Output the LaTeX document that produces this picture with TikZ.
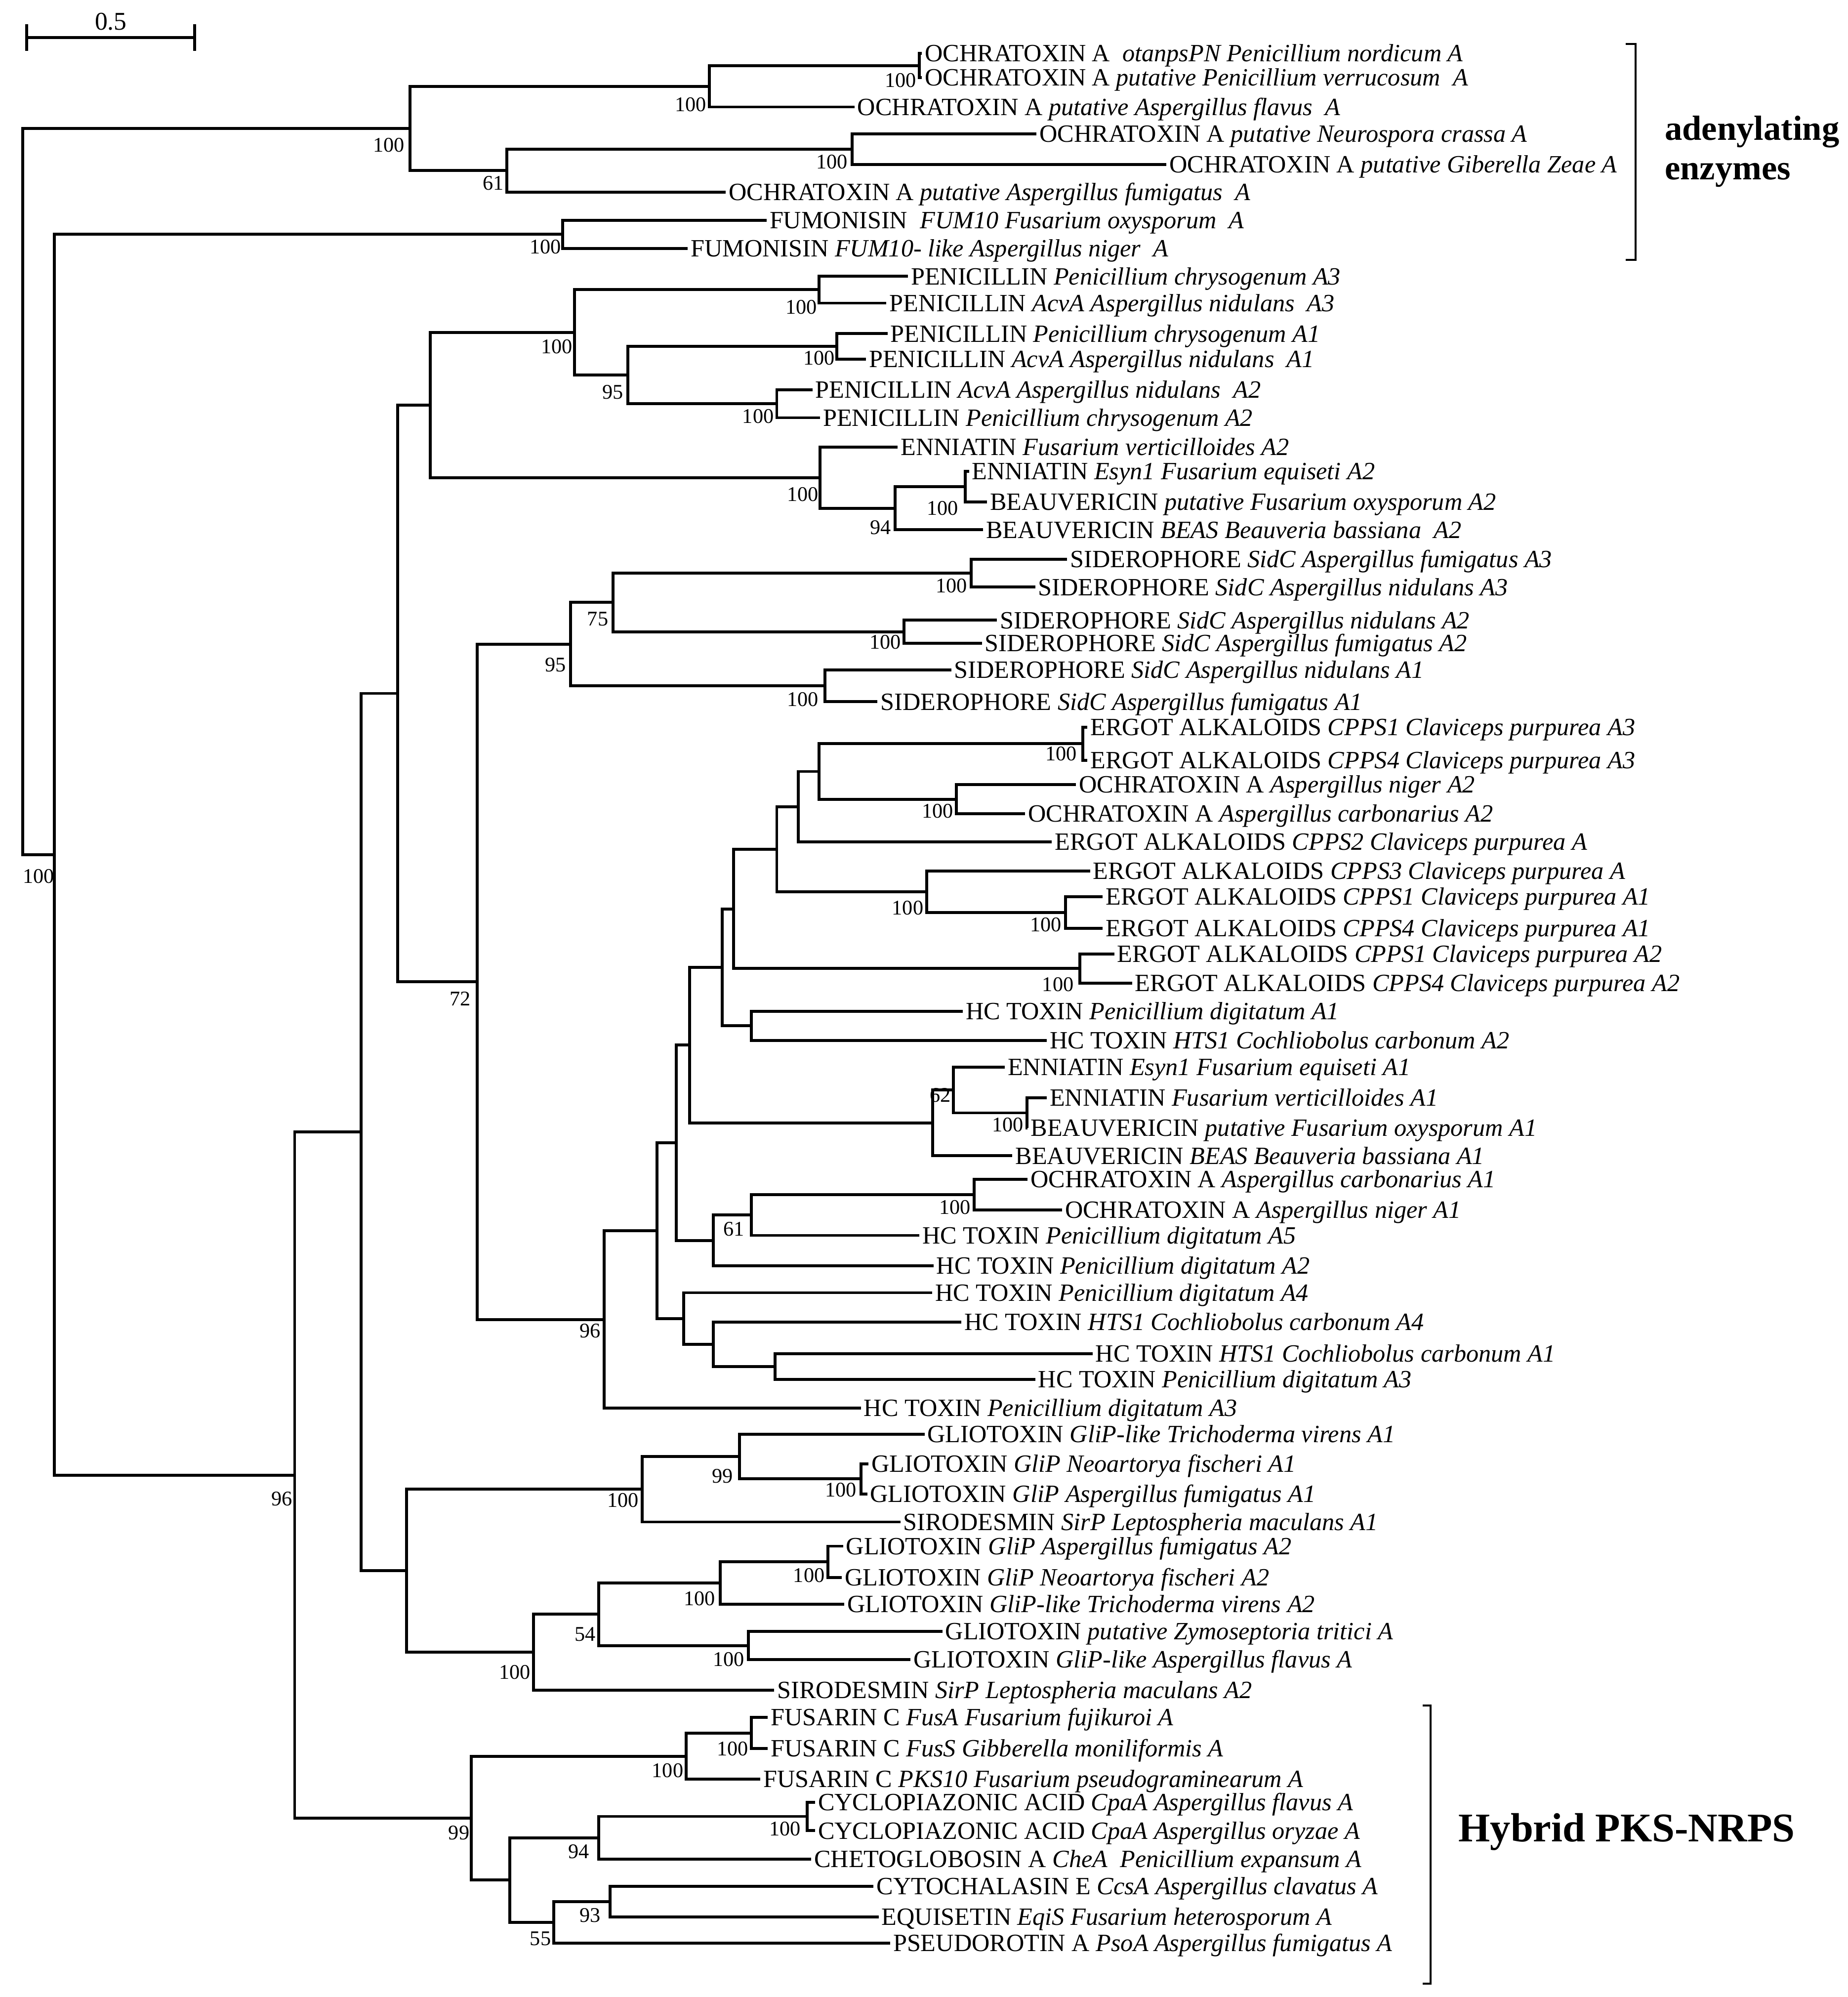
\documentclass[tikz,border=0pt]{standalone}
\usepackage{fontspec}
\setmainfont{Liberation Serif}
\usetikzlibrary{positioning}

\tikzset{
  leaf/.style={anchor=west, inner xsep=1pt, inner ysep=0pt, text height=6.45pt, text depth=0pt, font=\fontsize{9.75}{11}\selectfont},
  boot/.style={anchor=east, inner sep=0pt, font=\fontsize{8.2}{9}\selectfont},
  branch/.style={line width=1.15pt},
  brace/.style={line width=0.8pt},
  group/.style={anchor=base west, inner sep=0pt, font=\bfseries\fontsize{13.7}{15}\selectfont}
}

\begin{document}
\begin{tikzpicture}[x=0.5pt,y=-0.5pt]
\useasboundingbox (0,0) rectangle (1451,1568);

% scale bar
\draw[branch] (21,29.5) -- (153,29.5) (21,19) -- (21,40) (153,19) -- (153,40);
\node[anchor=base, inner sep=0pt, font=\fontsize{10}{11}\selectfont] (sbl) at (87,23.5) {0.5};

% leaves
\node[leaf] (l1) at (724,42) {OCHRATOXIN A\ \ \textit{otanpsPN Penicillium nordicum A}};
\node[leaf] (l2) at (724,61) {OCHRATOXIN A \textit{putative Penicillium verrucosum\ \ A}};
\node[leaf] (l3) at (671,84) {OCHRATOXIN A \textit{putative Aspergillus flavus\ \ A}};
\node[leaf] (l4) at (814,105) {OCHRATOXIN A \textit{putative Neurospora crassa A}};
\node[leaf] (l5) at (916,129) {OCHRATOXIN A \textit{putative Giberella Zeae A}};
\node[leaf] (l6) at (570,151) {OCHRATOXIN A \textit{putative Aspergillus fumigatus\ \ A}};
\node[leaf] (l7) at (602,173) {FUMONISIN\ \ \textit{FUM10 Fusarium oxysporum\ \ A}};
\node[leaf] (l8) at (540,195) {FUMONISIN \textit{FUM10- like Aspergillus niger\ \ A}};
\node[leaf] (l9) at (713,217) {PENICILLIN \textit{Penicillium chrysogenum A3}};
\node[leaf] (l10) at (696,238) {PENICILLIN \textit{AcvA Aspergillus nidulans\ \ A3}};
\node[leaf] (l11) at (697,262) {PENICILLIN \textit{Penicillium chrysogenum A1}};
\node[leaf] (l12) at (680,282) {PENICILLIN \textit{AcvA Aspergillus nidulans\ \ A1}};
\node[leaf] (l13) at (638,306) {PENICILLIN \textit{AcvA Aspergillus nidulans\ \ A2}};
\node[leaf] (l14) at (644,328) {PENICILLIN \textit{Penicillium chrysogenum A2}};
\node[leaf] (l15) at (705,351) {ENNIATIN \textit{Fusarium verticilloides A2}};
\node[leaf] (l16) at (761,370) {ENNIATIN \textit{Esyn1 Fusarium equiseti A2}};
\node[leaf] (l17) at (775,394) {BEAUVERICIN \textit{putative Fusarium oxysporum A2}};
\node[leaf] (l18) at (772,416) {BEAUVERICIN \textit{BEAS Beauveria bassiana\ \ A2}};
\node[leaf] (l19) at (838,439) {SIDEROPHORE \textit{SidC Aspergillus fumigatus A3}};
\node[leaf] (l20) at (813,461) {SIDEROPHORE \textit{SidC Aspergillus nidulans A3}};
\node[leaf] (l21) at (783,487) {SIDEROPHORE \textit{SidC Aspergillus nidulans A2}};
\node[leaf] (l22) at (771,505) {SIDEROPHORE \textit{SidC Aspergillus fumigatus A2}};
\node[leaf] (l23) at (747,526) {SIDEROPHORE \textit{SidC Aspergillus nidulans A1}};
\node[leaf] (l24) at (689,551) {SIDEROPHORE \textit{SidC Aspergillus fumigatus A1}};
\node[leaf] (l25) at (854,571) {ERGOT ALKALOIDS \textit{CPPS1 Claviceps purpurea A3}};
\node[leaf] (l26) at (854,597) {ERGOT ALKALOIDS \textit{CPPS4 Claviceps purpurea A3}};
\node[leaf] (l27) at (845,616) {OCHRATOXIN A \textit{Aspergillus niger A2}};
\node[leaf] (l28) at (805,639) {OCHRATOXIN A \textit{Aspergillus carbonarius A2}};
\node[leaf] (l29) at (826,661) {ERGOT ALKALOIDS \textit{CPPS2 Claviceps purpurea A}};
\node[leaf] (l30) at (856,684) {ERGOT ALKALOIDS \textit{CPPS3 Claviceps purpurea A}};
\node[leaf] (l31) at (866,704) {ERGOT ALKALOIDS \textit{CPPS1 Claviceps purpurea A1}};
\node[leaf] (l32) at (866,729) {ERGOT ALKALOIDS \textit{CPPS4 Claviceps purpurea A1}};
\node[leaf] (l33) at (875,749) {ERGOT ALKALOIDS \textit{CPPS1 Claviceps purpurea A2}};
\node[leaf] (l34) at (889,772) {ERGOT ALKALOIDS \textit{CPPS4 Claviceps purpurea A2}};
\node[leaf] (l35) at (756,794) {HC TOXIN \textit{Penicillium digitatum A1}};
\node[leaf] (l36) at (822,817) {HC TOXIN \textit{HTS1 Cochliobolus carbonum A2}};
\node[leaf] (l37) at (789,838) {ENNIATIN \textit{Esyn1 Fusarium equiseti A1}};
\node[leaf] (l38) at (822,862) {ENNIATIN \textit{Fusarium verticilloides A1}};
\node[leaf] (l39) at (807,885.6) {BEAUVERICIN \textit{putative Fusarium oxysporum A1}};
\node[leaf] (l40) at (795,907.5) {BEAUVERICIN \textit{BEAS Beauveria bassiana A1}};
\node[leaf] (l41) at (807,926) {OCHRATOXIN A \textit{Aspergillus carbonarius A1}};
\node[leaf] (l42) at (834,950) {OCHRATOXIN A \textit{Aspergillus niger A1}};
\node[leaf] (l43) at (722,970) {HC TOXIN \textit{Penicillium digitatum A5}};
\node[leaf] (l44) at (733,994) {HC TOXIN \textit{Penicillium digitatum A2}};
\node[leaf] (l45) at (732,1015) {HC TOXIN \textit{Penicillium digitatum A4}};
\node[leaf] (l46) at (755,1038) {HC TOXIN \textit{HTS1 Cochliobolus carbonum A4}};
\node[leaf] (l47) at (858,1063) {HC TOXIN \textit{HTS1 Cochliobolus carbonum A1}};
\node[leaf] (l48) at (813,1083) {HC TOXIN \textit{Penicillium digitatum A3}};
\node[leaf] (l49) at (676,1105.7) {HC TOXIN \textit{Penicillium digitatum A3}};
\node[leaf] (l50) at (726,1126) {GLIOTOXIN \textit{GliP-like Trichoderma virens A1}};
\node[leaf] (l51) at (682,1149.4) {GLIOTOXIN \textit{GliP Neoartorya fischeri A1}};
\node[leaf] (l52) at (681,1173) {GLIOTOXIN \textit{GliP Aspergillus fumigatus A1}};
\node[leaf] (l53) at (707,1195) {SIRODESMIN \textit{SirP Leptospheria maculans A1}};
\node[leaf] (l54) at (662,1214) {GLIOTOXIN \textit{GliP Aspergillus fumigatus A2}};
\node[leaf] (l55) at (661,1238.6) {GLIOTOXIN \textit{GliP Neoartorya fischeri A2}};
\node[leaf] (l56) at (663,1259.6) {GLIOTOXIN \textit{GliP-like Trichoderma virens A2}};
\node[leaf] (l57) at (740,1281) {GLIOTOXIN \textit{putative Zymoseptoria tritici A}};
\node[leaf] (l58) at (715,1303) {GLIOTOXIN \textit{GliP-like Aspergillus flavus A}};
\node[leaf] (l59) at (608,1327) {SIRODESMIN \textit{SirP Leptospheria maculans A2}};
\node[leaf] (l60) at (603,1348.5) {FUSARIN C \textit{FusA Fusarium fujikuroi A}};
\node[leaf] (l61) at (603,1373) {FUSARIN C \textit{FusS Gibberella moniliformis A}};
\node[leaf] (l62) at (597,1397) {FUSARIN C \textit{PKS10 Fusarium pseudograminearum A}};
\node[leaf] (l63) at (640,1415) {CYCLOPIAZONIC ACID \textit{CpaA Aspergillus flavus A}};
\node[leaf] (l64) at (640,1437.4) {CYCLOPIAZONIC ACID \textit{CpaA Aspergillus oryzae A}};
\node[leaf] (l65) at (637,1459.7) {CHETOGLOBOSIN A \textit{CheA\ \ Penicillium expansum A}};
\node[leaf] (l66) at (686,1481) {CYTOCHALASIN E \textit{CcsA Aspergillus clavatus A}};
\node[leaf] (l67) at (690,1505) {EQUISETIN \textit{EqiS Fusarium heterosporum A}};
\node[leaf] (l68) at (699,1525.6) {PSEUDOROTIN A \textit{PsoA Aspergillus fumigatus A}};

% inner nodes
\coordinate (r) at (18,386);
\coordinate (a1) at (722,51.5);
\coordinate (a2) at (557,67.75);
\coordinate (a3) at (322,100.9);
\coordinate (a4) at (398,134);
\coordinate (a5) at (669,117);
\coordinate (f1) at (442,184);
\coordinate (b0) at (42.6,671.1);
\coordinate (b1) at (231.4,1158.2);
\coordinate (b2) at (283.7,888.9);
\coordinate (b3) at (312.4,544.45);
\coordinate (p0) at (338,318);
\coordinate (p1) at (451,261);
\coordinate (p2) at (643,227.5);
\coordinate (p3) at (493,294.5);
\coordinate (p4) at (657,272);
\coordinate (p5) at (610,317);
\coordinate (e0) at (644,375);
\coordinate (e1) at (703,399);
\coordinate (e2) at (758,382);
\coordinate (s0) at (374.8,770.9);
\coordinate (s1) at (448,505.75);
\coordinate (s2) at (481.3,473);
\coordinate (s3) at (762.5,450);
\coordinate (s4) at (710,496);
\coordinate (s5) at (648,538.5);
\coordinate (k1) at (576,713.65);
\coordinate (k2) at (610,666.8);
\coordinate (k3) at (627,633.4);
\coordinate (k3a) at (643,605.75);
\coordinate (k3b) at (850.4,584);
\coordinate (k3c) at (751,627.5);
\coordinate (k4) at (727.8,700.25);
\coordinate (k4a) at (836.6,716.5);
\coordinate (k5) at (848,760.5);
\coordinate (k6) at (590,805.5);
\coordinate (en0) at (732.4,881.7);
\coordinate (en1) at (748.6,855.9);
\coordinate (en2) at (806.5,873.8);
\coordinate (o1) at (765,938);
\coordinate (h1) at (474.3,1036);
\coordinate (h2) at (516,966.3);
\coordinate (h3) at (531,897.3);
\coordinate (h4) at (541.4,820.6);
\coordinate (h5) at (567,759.6);
\coordinate (h7) at (560,974);
\coordinate (h8) at (590,954);
\coordinate (h9) at (537,1035.25);
\coordinate (h10) at (560,1055.5);
\coordinate (h11) at (608.5,1073);
\coordinate (g0) at (319.3,1233.3);
\coordinate (g1) at (504.4,1169.3);
\coordinate (g2) at (580.7,1143.6);
\coordinate (g3) at (676,1161.2);
\coordinate (g5) at (418.8,1297.25);
\coordinate (g6) at (470,1267.5);
\coordinate (g7) at (565.5,1243);
\coordinate (g8) at (650,1226.3);
\coordinate (g9) at (587.7,1292);
\coordinate (y0) at (370.2,1427.5);
\coordinate (y1) at (539,1378.9);
\coordinate (y2) at (590,1360.75);
\coordinate (y4) at (400.3,1476.2);
\coordinate (y5) at (470,1443);
\coordinate (y6) at (634,1426.2);
\coordinate (y7) at (435,1509.3);
\coordinate (y8) at (479,1493);

% branches
\draw[branch] (r) |- (a3) (r) |- (b0);
\draw[branch] (a3) |- (a2) (a3) |- (a4);
\draw[branch] (a2) |- (a1) (a2) |- (l3.west);
\draw[branch] (a1) |- (l1.west) (a1) |- (l2.west);
\draw[branch] (a4) |- (a5) (a4) |- (l6.west);
\draw[branch] (a5) |- (l4.west) (a5) |- (l5.west);
\draw[branch] (b0) |- (f1) (b0) |- (b1);
\draw[branch] (f1) |- (l7.west) (f1) |- (l8.west);
\draw[branch] (b1) |- (b2) (b1) |- (y0);
\draw[branch] (b2) |- (b3) (b2) |- (g0);
\draw[branch] (b3) |- (p0) (b3) |- (s0);
\draw[branch] (p0) |- (p1) (p0) |- (e0);
\draw[branch] (p1) |- (p2) (p1) |- (p3);
\draw[branch] (p2) |- (l9.west) (p2) |- (l10.west);
\draw[branch] (p3) |- (p4) (p3) |- (p5);
\draw[branch] (p4) |- (l11.west) (p4) |- (l12.west);
\draw[branch] (p5) |- (l13.west) (p5) |- (l14.west);
\draw[branch] (e0) |- (l15.west) (e0) |- (e1);
\draw[branch] (e1) |- (e2) (e1) |- (l18.west);
\draw[branch] (e2) |- (l16.west) (e2) |- (l17.west);
\draw[branch] (s0) |- (s1) (s0) |- (h1);
\draw[branch] (s1) |- (s2) (s1) |- (s5);
\draw[branch] (s2) |- (s3) (s2) |- (s4);
\draw[branch] (s3) |- (l19.west) (s3) |- (l20.west);
\draw[branch] (s4) |- (l21.west) (s4) |- (l22.west);
\draw[branch] (s5) |- (l23.west) (s5) |- (l24.west);
\draw[branch] (h1) |- (h2) (h1) |- (l49.west);
\draw[branch] (h2) |- (h3) (h2) |- (h9);
\draw[branch] (h3) |- (h4) (h3) |- (h7);
\draw[branch] (h4) |- (h5) (h4) |- (en0);
\draw[branch] (h5) |- (k1) (h5) |- (k6);
\draw[branch] (k1) |- (k2) (k1) |- (k5);
\draw[branch] (k2) |- (k3) (k2) |- (k4);
\draw[branch] (k3) |- (k3a) (k3) |- (l29.west);
\draw[branch] (k3a) |- (k3b) (k3a) |- (k3c);
\draw[branch] (k3b) |- (l25.west) (k3b) |- (l26.west);
\draw[branch] (k3c) |- (l27.west) (k3c) |- (l28.west);
\draw[branch] (k4) |- (l30.west) (k4) |- (k4a);
\draw[branch] (k4a) |- (l31.west) (k4a) |- (l32.west);
\draw[branch] (k5) |- (l33.west) (k5) |- (l34.west);
\draw[branch] (k6) |- (l35.west) (k6) |- (l36.west);
\draw[branch] (en0) |- (en1) (en0) |- (l40.west);
\draw[branch] (en1) |- (l37.west) (en1) |- (en2);
\draw[branch] (en2) |- (l38.west) (en2) |- (l39.west);
\draw[branch] (h7) |- (h8) (h7) |- (l44.west);
\draw[branch] (h8) |- (o1) (h8) |- (l43.west);
\draw[branch] (o1) |- (l41.west) (o1) |- (l42.west);
\draw[branch] (h9) |- (l45.west) (h9) |- (h10);
\draw[branch] (h10) |- (l46.west) (h10) |- (h11);
\draw[branch] (h11) |- (l47.west) (h11) |- (l48.west);
\draw[branch] (g0) |- (g1) (g0) |- (g5);
\draw[branch] (g1) |- (g2) (g1) |- (l53.west);
\draw[branch] (g2) |- (l50.west) (g2) |- (g3);
\draw[branch] (g3) |- (l51.west) (g3) |- (l52.west);
\draw[branch] (g5) |- (g6) (g5) |- (l59.west);
\draw[branch] (g6) |- (g7) (g6) |- (g9);
\draw[branch] (g7) |- (g8) (g7) |- (l56.west);
\draw[branch] (g8) |- (l54.west) (g8) |- (l55.west);
\draw[branch] (g9) |- (l57.west) (g9) |- (l58.west);
\draw[branch] (y0) |- (y1) (y0) |- (y4);
\draw[branch] (y1) |- (y2) (y1) |- (l62.west);
\draw[branch] (y2) |- (l60.west) (y2) |- (l61.west);
\draw[branch] (y4) |- (y5) (y4) |- (y7);
\draw[branch] (y5) |- (y6) (y5) |- (l65.west);
\draw[branch] (y6) |- (l63.west) (y6) |- (l64.west);
\draw[branch] (y7) |- (y8) (y7) |- (l68.west);
\draw[branch] (y8) |- (l66.west) (y8) |- (l67.west);

% bootstrap values
\node[boot] (ba1) at (720,63) {100};
\node[boot] (ba2) at (555,82) {100};
\node[boot] (ba3) at (318,114) {100};
\node[boot] (ba5) at (666,127) {100};
\node[boot] (ba4) at (396,144) {61};
\node[boot] (bf1) at (441,194) {100};
\node[boot] (bb0) at (43,688) {100};
\node[boot] (bb1) at (230,1177) {96};
\node[boot] (bp1) at (450,272) {100};
\node[boot] (bp2) at (642,241) {100};
\node[boot] (bp3) at (490,308) {95};
\node[boot] (bp4) at (656,281) {100};
\node[boot] (bp5) at (608,327) {100};
\node[boot] (be0) at (643,388) {100};
\node[boot] (be1) at (700,414) {94};
\node[boot] (be2) at (753,399) {100};
\node[boot] (bs0) at (370,784) {72};
\node[boot] (bs1) at (445,522) {95};
\node[boot] (bs2) at (478,486) {75};
\node[boot] (bs3) at (760,460) {100};
\node[boot] (bs4) at (708,504) {100};
\node[boot] (bs5) at (643,549) {100};
\node[boot] (bk3b) at (846,592) {100};
\node[boot] (bk3c) at (749,637) {100};
\node[boot] (bk4) at (725.5,713) {100};
\node[boot] (bk4a) at (834,726) {100};
\node[boot] (bk5) at (843.5,773) {100};
\node[boot] (ben1) at (747,860) {62};
\node[boot] (ben2) at (804,883) {100};
\node[boot] (bo1) at (762.5,948) {100};
\node[boot] (bh8) at (585,965) {61};
\node[boot] (bh1) at (472,1045) {96};
\node[boot] (bg1) at (502,1178) {100};
\node[boot] (bg2) at (576,1159) {99};
\node[boot] (bg3) at (673,1170) {100};
\node[boot] (bg5) at (417,1313) {100};
\node[boot] (bg6) at (468,1283) {54};
\node[boot] (bg7) at (562,1255) {100};
\node[boot] (bg8) at (648,1237) {100};
\node[boot] (bg9) at (585,1303) {100};
\node[boot] (by0) at (369,1439) {99};
\node[boot] (by1) at (537,1390) {100};
\node[boot] (by2) at (588,1373) {100};
\node[boot] (by5) at (463,1454) {94};
\node[boot] (by6) at (629,1436) {100};
\node[boot] (by7) at (433,1522) {55};
\node[boot] (by8) at (472,1504) {93};

% groups
\coordinate (ad1) at (1284.5,34.5);
\coordinate (ad2) at (1284.5,204);
\draw[brace] ([xshift=-4pt]ad1) -- (ad1) -- (ad2) -- ([xshift=-4pt]ad2);
\node[group] (adn) at (1307,110) {adenylating};
\node[group] (enz) at (1307,141) {enzymes};
\coordinate (hy1) at (1123.4,1339);
\coordinate (hy2) at (1123.4,1557.4);
\draw[brace] ([xshift=-3pt]hy1) -- (hy1) -- (hy2) -- ([xshift=-3pt]hy2);
\node[group, font=\bfseries\fontsize{16}{18}\selectfont] (hyb) at (1145,1446) {Hybrid PKS-NRPS};
\end{tikzpicture}
\end{document}
